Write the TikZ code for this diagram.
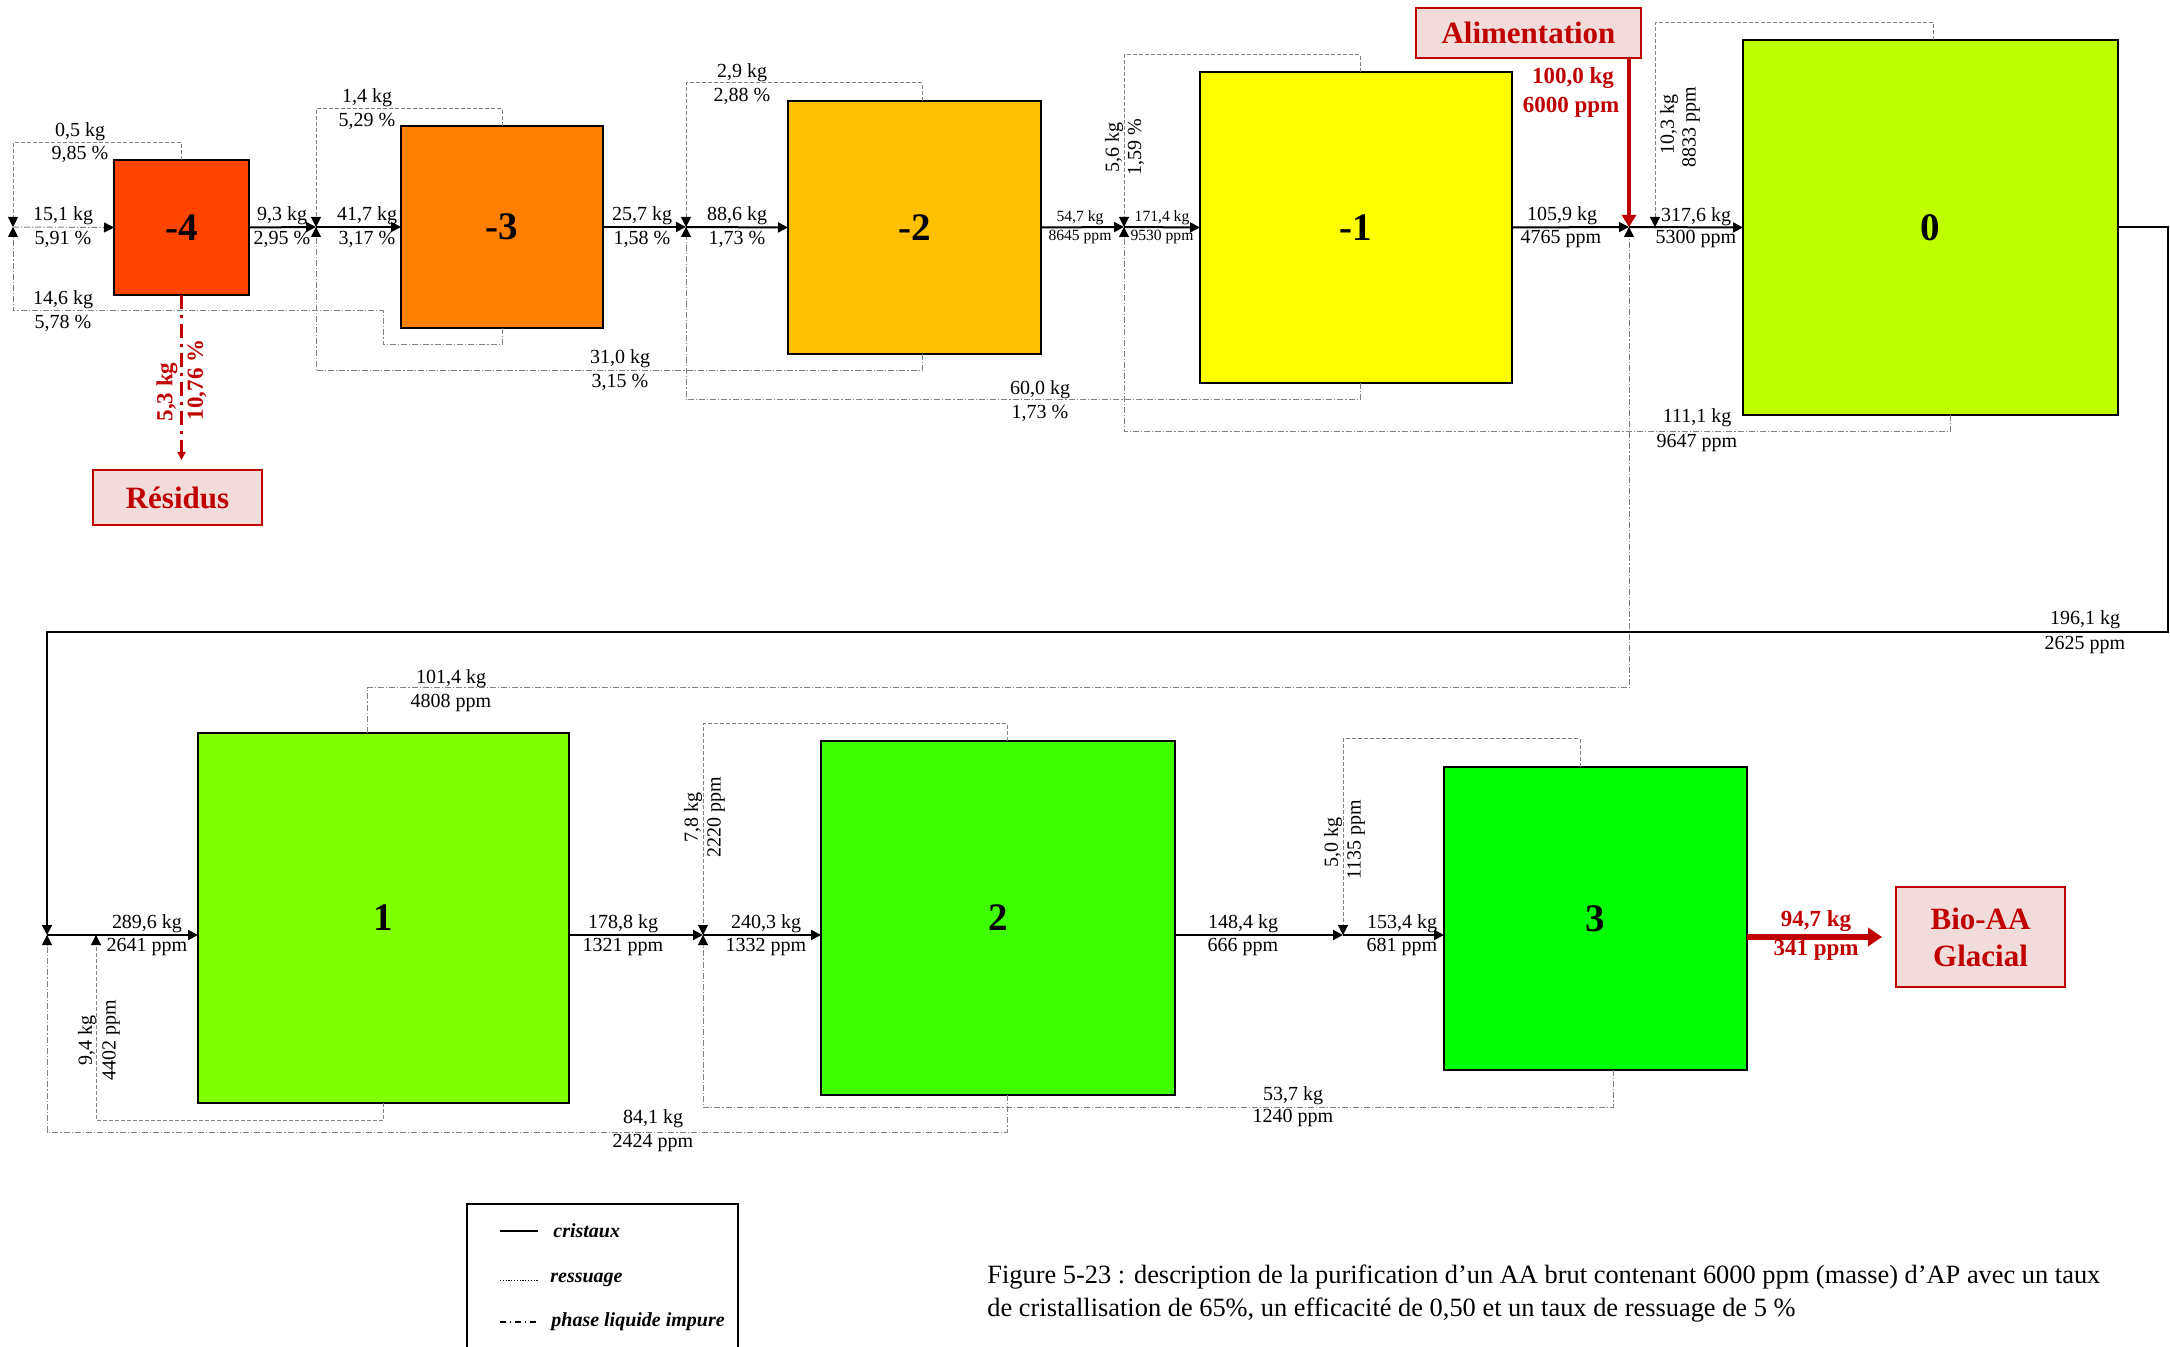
\documentclass[tikz,border=0pt]{standalone}
\usepackage{fontspec}
\setmainfont{Liberation Serif}
\usetikzlibrary{arrows.meta,calc}
\definecolor{cmfour}{RGB}{255,69,0}
\definecolor{cmthree}{RGB}{255,128,0}
\definecolor{cmtwo}{RGB}{255,192,0}
\definecolor{cmone}{RGB}{255,255,0}
\definecolor{czero}{RGB}{192,255,0}
\definecolor{cone}{RGB}{128,255,0}
\definecolor{ctwo}{RGB}{64,255,0}
\definecolor{cthree}{RGB}{0,255,0}
\definecolor{myred}{RGB}{192,0,0}
\definecolor{mypink}{RGB}{242,220,219}
\definecolor{lgray}{RGB}{130,130,130}
\tikzset{
  stage/.style={draw=black, line width=1.2pt, minimum width=#1, minimum height=#1, inner sep=0pt, outer sep=0pt, font=\fontsize{19.5}{20}\selectfont\bfseries},
  lbl/.style={font=\fontsize{10}{11}\selectfont, inner sep=0pt},
  slbl/.style={font=\fontsize{7.8}{9}\selectfont, inner sep=0pt},
  rlbl/.style={font=\fontsize{11.5}{13}\selectfont\bfseries, text=myred, inner sep=0pt},
  redbox/.style={draw=myred, fill=mypink, line width=1pt, font=\fontsize{15.5}{18.5}\selectfont\bfseries, text=myred, align=center, inner sep=0pt, outer sep=0pt},
  crys/.style={line width=1pt, black},
  ress/.style={lgray, line width=0.5pt, dash pattern=on 2pt off 1pt},
  liq/.style={lgray, line width=0.5pt, dash pattern=on 3pt off 1pt on 0.6pt off 1pt},
  arr/.style={-{Triangle[length=5pt,width=5pt,black]}},
  leg/.style={font=\fontsize{10}{12}\selectfont\bfseries\itshape, inner sep=0pt, anchor=west},
  captext/.style={font=\fontsize{13.2}{15}\selectfont, inner sep=0pt, anchor=west}
}
\begin{document}
\begin{tikzpicture}[x=0.5pt,y=-0.5pt]
\useasboundingbox (0,0) rectangle (2170,1347);

% stages
\node[stage=67.5pt, fill=cmfour] (m4) at (181.5,227.5) {-4};
\node[stage=101pt, fill=cmthree] (m3) at (502,227) {-3};
\node[stage=126.5pt, fill=cmtwo] (m2) at (914.5,227.5) {-2};
\node[stage=156pt, minimum height=155.5pt, fill=cmone] (m1n) at (1356,227.5) {-1};
\node[stage=187.5pt, fill=czero] (z) at (1930.5,227.5) {0};
\node[stage=185.5pt, minimum height=185pt, fill=cone] (b1) at (383.5,918) {1};
\node[stage=177pt, fill=ctwo] (b2) at (998,918) {2};
\node[stage=151.5pt, fill=cthree] (b3) at (1595.5,918.5) {3};

% red boxes
\node[redbox, minimum width=112.5pt, minimum height=25pt] (alim) at (1528.5,33) {Alimentation};
\node[redbox, minimum width=84.5pt, minimum height=27.5pt] (res) at (177.5,497.5) {Résidus};
\node[redbox, minimum width=84.5pt, minimum height=50pt] (bio) at (1980.5,937) {Bio-AA\\Glacial};

% junctions
\coordinate (jA) at (13,227);
\coordinate (jB) at (316,227);
\coordinate (jC) at (686,227);
\coordinate (jD) at (1124,227);
\coordinate (jE) at (1629,227);
\coordinate (jF) at (1655,227);
\coordinate (kA) at (47,935);
\coordinate (kB) at (96,935);
\coordinate (kC) at (703,935);
\coordinate (kD) at (1343,935);

% ---- top row flows
\draw[ress,arr] (m4.north) |- (13,143) -- (jA);
\draw[liq,arr] (m3.south) |- (383,345) |- (13,311) -- (jA);
\draw[liq,arr] (jA) -- (m4.west);
\draw[crys,arr] (m4.east) -- (jB);
\draw[ress,arr] (m3.north) |- (316,109) -- (jB);
\draw[liq,arr] ([xshift=3.75pt]m2.south) |- (316,371) -- (jB);
\draw[crys,arr] (jB) -- (m3.west);
\draw[crys,arr] (m3.east) -- (jC);
\draw[ress,arr] ([xshift=3.75pt]m2.north) |- (686,83) -- (jC);
\draw[liq,arr] ([xshift=2pt]m1n.south) |- (686,400) -- (jC);
\draw[crys,arr] (jC) -- (m2.west);
\draw[crys,arr] (m2.east) -- (jD);
\draw[ress,arr] ([xshift=2pt]m1n.north) |- (1124,55) -- (jD);
\draw[liq,arr] ([xshift=10pt]z.south) |- (1124,432) -- (jD);
\draw[crys,arr] (jD) -- (m1n.west);
\draw[crys,arr] (m1n.east) -- (jE);
\draw[ress,arr] ([xshift=1.5pt]z.north) |- (1655,23) -- (jF);
\draw[crys,arr] (jE) -- (z.west);
\draw[liq,arr] ([xshift=-8.25pt]b1.north) |- (1629,688) -- (jE);
\draw[myred, line width=2pt, -{Triangle[length=6pt,width=7pt]}] (alim.south -| jE) -- (jE);
\draw[myred, line width=1.5pt, dash pattern=on 7pt off 3pt on 1.5pt off 3pt, -{Triangle[length=4pt,width=4pt]}] (m4.south) -- ([yshift=5pt]m4.south |- res.north);

% ---- main loop
\draw[crys,arr] (z.east) -| (2168,632) -- (47,632) -- (kA);

% ---- bottom row flows
\draw[crys,arr] (kA) -- (kA -| b1.west);
\draw[ress,arr] (b1.south) |- (96,1120) -- (kB);
\draw[liq,arr] ([xshift=4.5pt]b2.south) |- (47,1132) -- (kA);
\draw[crys,arr] (kC -| b1.east) -- (kC);
\draw[ress,arr] ([xshift=4.5pt]b2.north) |- (703,724) -- (kC);
\draw[liq,arr] ([xshift=8.75pt]b3.south) |- (703,1107) -- (kC);
\draw[crys,arr] (kC) -- (kC -| b2.west);
\draw[crys,arr] (kD -| b2.east) -- (kD);
\draw[ress,arr] ([xshift=-7.75pt]b3.north) |- (1343,739) -- (kD);
\draw[crys,arr] (kD) -- (kD -| b3.west);
\draw[myred, line width=2.8pt, -{Triangle[length=7pt,width=9pt]}] (b3.east |- bio.west) -- ([xshift=-7pt]bio.west);

% ---- labels top row
\node[lbl] (l1) at (80,132) {0,5 kg};
\node[lbl] (l2) at (80,154) {9,85 \%};
\node[lbl] (l3) at (63,216) {15,1 kg};
\node[lbl] (l4) at (63,239) {5,91 \%};
\node[lbl] (l5) at (63,300) {14,6 kg};
\node[lbl] (l6) at (63,323) {5,78 \%};
\node[lbl] (l7) at (282,216) {9,3 kg};
\node[lbl] (l8) at (282,239) {2,95 \%};
\node[lbl] (l9) at (367,216) {41,7 kg};
\node[lbl] (l10) at (367,239) {3,17 \%};
\node[lbl] (l11) at (367,98) {1,4 kg};
\node[lbl] (l12) at (367,121) {5,29 \%};
\node[lbl] (l13) at (620,359) {31,0 kg};
\node[lbl] (l14) at (620,382) {3,15 \%};
\node[lbl] (l15) at (642,216) {25,7 kg};
\node[lbl] (l16) at (642,239) {1,58 \%};
\node[lbl] (l17) at (742,73) {2,9 kg};
\node[lbl] (l18) at (742,96) {2,88 \%};
\node[lbl] (l19) at (737,216) {88,6 kg};
\node[lbl] (l20) at (737,239) {1,73 \%};
\node[lbl] (l21) at (1040,390) {60,0 kg};
\node[lbl] (l22) at (1040,413) {1,73 \%};
\node[slbl] (l23) at (1080,218) {54,7 kg};
\node[slbl] (l24) at (1080,237) {8645 ppm};
\node[lbl, rotate=90] (l25) at (1114,148) {5,6 kg};
\node[lbl, rotate=90] (l26) at (1136,147) {1,59 \%};
\node[slbl] (l27) at (1162,218) {171,4 kg};
\node[slbl] (l28) at (1162,237) {9530 ppm};
\node[lbl] (l29) at (1562,216) {105,9 kg};
\node[lbl] (l30) at (1561,239) {4765 ppm};
\node[rlbl] (l31) at (1573,78) {100,0 kg};
\node[rlbl] (l32) at (1571,107) {6000 ppm};
\node[lbl, rotate=90] (l33) at (1669,125) {10,3 kg};
\node[lbl, rotate=90] (l34) at (1691,127) {8833 ppm};
\node[lbl] (l35) at (1696,217) {317,6 kg};
\node[lbl] (l36) at (1696,239) {5300 ppm};
\node[lbl] (l37) at (1697,418) {111,1 kg};
\node[lbl] (l38) at (1697,443) {9647 ppm};
\node[lbl] (l39) at (2085,620) {196,1 kg};
\node[lbl] (l40) at (2085,645) {2625 ppm};
\node[rlbl, rotate=90] (l41) at (167,392) {5,3 kg};
\node[rlbl, rotate=90] (l42) at (197,380) {10,76 \%};

% ---- labels bottom row
\node[lbl] (n1) at (451,679) {101,4 kg};
\node[lbl] (n2) at (451,703) {4808 ppm};
\node[lbl] (n3) at (147,924) {289,6 kg};
\node[lbl] (n4) at (147,947) {2641 ppm};
\node[lbl, rotate=90] (n5) at (87,1040) {9,4 kg};
\node[lbl, rotate=90] (n6) at (111,1040) {4402 ppm};
\node[lbl] (n7) at (623,924) {178,8 kg};
\node[lbl] (n8) at (623,947) {1321 ppm};
\node[lbl, rotate=90] (n9) at (693,817) {7,8 kg};
\node[lbl, rotate=90] (n10) at (716,817) {2220 ppm};
\node[lbl] (n11) at (766,924) {240,3 kg};
\node[lbl] (n12) at (766,947) {1332 ppm};
\node[lbl] (n13) at (653,1119) {84,1 kg};
\node[lbl] (n14) at (653,1143) {2424 ppm};
\node[lbl] (n15) at (1243,924) {148,4 kg};
\node[lbl] (n16) at (1243,947) {666 ppm};
\node[lbl, rotate=90] (n17) at (1333,842) {5,0 kg};
\node[lbl, rotate=90] (n18) at (1356,840) {1135 ppm};
\node[lbl] (n19) at (1402,924) {153,4 kg};
\node[lbl] (n20) at (1402,947) {681 ppm};
\node[lbl] (n21) at (1293,1096) {53,7 kg};
\node[lbl] (n22) at (1293,1118) {1240 ppm};
\node[rlbl] (n23) at (1816,921) {94,7 kg};
\node[rlbl] (n24) at (1816,950) {341 ppm};

% ---- legend
\draw[line width=0.8pt] (467,1347) -- (467,1204) -- (738,1204) -- (738,1347);
\coordinate (g1a) at (500,1231); \coordinate (g1b) at (538,1231);
\coordinate (g2a) at (500,1280); \coordinate (g2b) at (538,1280);
\coordinate (g3a) at (500,1322); \coordinate (g3b) at (538,1322);
\draw[line width=0.8pt] (g1a) -- (g1b);
\draw[line width=0.5pt, dash pattern=on 0.6pt off 0.8pt] (g2a) -- (g2b);
\draw[line width=0.7pt, dash pattern=on 3pt off 2pt on 0.6pt off 2pt] (g3a) -- (g3b);
\node[leg] (lg1) at (553,1231) {cristaux};
\node[leg] (lg2) at (550,1280) {ressuage};
\node[leg] (lg3) at (551,1322) {phase liquide impure};

% ---- caption
\node[captext] (c1) at (987,1277) {Figure 5-23 : description de la purification d’un AA brut contenant 6000 ppm (masse) d’AP avec un taux};
\node[captext] (c2) at (987,1310) {de cristallisation de 65\%, un efficacité de 0,50 et un taux de ressuage de 5 \%};
\end{tikzpicture}
\end{document}
